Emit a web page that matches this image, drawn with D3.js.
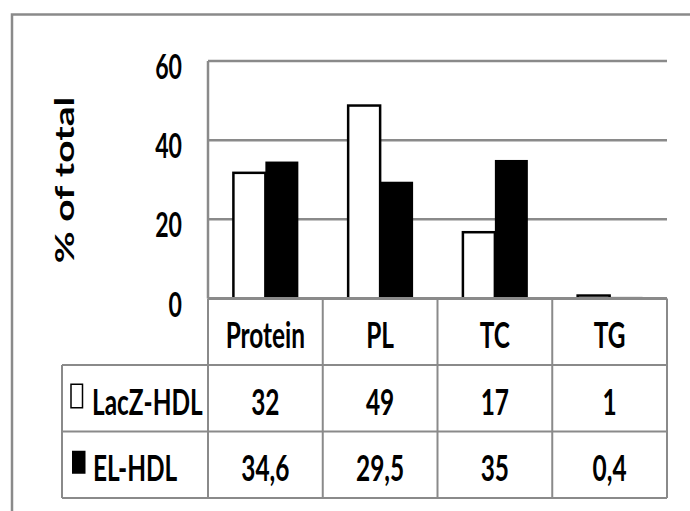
<!DOCTYPE html>
<html>
<head>
<meta charset="utf-8">
<script src="https://cdn.jsdelivr.net/npm/d3@7"></script>
<style>
  html, body { margin: 0; padding: 0; background: #fff; }
  svg { display: block; }
  text { font-family: Lato, "Open Sans", sans-serif; font-weight: bold; fill: #000; }
</style>
</head>
<body>
<svg id="chart" width="690" height="511"></svg>
<script>
// ---- data ----
const categories = ["Protein", "PL", "TC", "TG"];
const seriesNames = ["LacZ-HDL", "EL-HDL"];
const laczValues = [32, 49, 17, 1];
const elValues = [34.6, 29.5, 35, 0.4];
const yTicks = [0, 20, 40, 60];
const yTitle = "% of total";

// ---- layout ----
const W = 690, H = 511;
const plotLeft = 208, plotRight = 667, plotTop = 61, plotBottom = 298.5;
const tableLeft = 62, rowH = 66.5;
const SX = 0.66;            // horizontal squeeze of the lettering
const gridColor = "#8a8a8a";

const svg = d3.select("#chart");
svg.append("rect").attr("width", W).attr("height", H).attr("fill", "#fff");

// outer frame (only top and left visible)
svg.append("rect")
  .attr("x", 12).attr("y", 14.5).attr("width", 760).attr("height", 560)
  .attr("fill", "none").attr("stroke", gridColor).attr("stroke-width", 2.5);

const x = d3.scaleBand().domain(categories).range([plotLeft, plotRight]).paddingInner(0).paddingOuter(0);
const xs = d3.scaleBand().domain(seriesNames).range([0, x.bandwidth()]).paddingInner(0).paddingOuter(0.74);
const y = d3.scaleLinear().domain([0, 60]).range([plotBottom, plotTop]);

// gridlines (excluding 0, which is the table top)
svg.append("g").selectAll("line").data(yTicks.filter(t => t > 0)).join("line")
  .attr("x1", plotLeft).attr("x2", plotRight)
  .attr("y1", d => y(d)).attr("y2", d => y(d))
  .attr("stroke", gridColor).attr("stroke-width", 2.5);

// y axis line
svg.append("line").attr("x1", plotLeft).attr("x2", plotLeft)
  .attr("y1", y(60)).attr("y2", y(0))
  .attr("stroke", gridColor).attr("stroke-width", 2.5);

// tick labels
svg.append("g").selectAll("text").data(yTicks).join("text")
  .attr("transform", d => `translate(182,${y(d) + 18}) scale(${SX},1)`)
  .attr("text-anchor", "end")
  .attr("font-size", 35)
  .text(d => d);

// y title
svg.append("text")
  .attr("transform", `translate(74,180) scale(${SX},1) rotate(-90)`)
  .attr("text-anchor", "middle")
  .attr("font-size", 39)
  .text(yTitle);

// bars
const seriesData = [laczValues, elValues];
const barStyles = [{fill: "#fff", stroke: "#000"}, {fill: "#000", stroke: "#000"}];
seriesNames.forEach((s, si) => {
  svg.append("g").selectAll("rect").data(categories).join("rect")
    .attr("x", c => x(c) + xs(s) + (si === 0 ? 1 : 0))
    .attr("width", xs.bandwidth() - (si === 0 ? 1 : 0))
    .attr("y", (c, i) => y(seriesData[si][i]) + (si === 0 ? 1 : 0))
    .attr("height", (c, i) => Math.max(0, y(0) - y(seriesData[si][i]) - (si === 0 ? 1 : 0)))
    .attr("fill", barStyles[si].fill)
    .attr("stroke", barStyles[si].stroke)
    .attr("stroke-width", si === 0 ? 2.5 : 0);
});

// ---- table ----
const t = svg.append("g").attr("stroke", gridColor).attr("stroke-width", 2).attr("fill", "none");
const rowTops = [plotBottom, plotBottom + rowH, plotBottom + 2 * rowH, plotBottom + 3 * rowH];
// lower horizontal lines
[1, 2, 3].forEach(r => {
  t.append("line").attr("x1", tableLeft).attr("x2", plotRight).attr("y1", rowTops[r]).attr("y2", rowTops[r]);
});
// vertical lines
const colEdges = categories.map(c => x(c)).concat([plotRight]);
colEdges.forEach(cx => {
  t.append("line").attr("x1", cx).attr("x2", cx).attr("y1", rowTops[0]).attr("y2", rowTops[3]);
});
t.append("line").attr("x1", tableLeft).attr("x2", tableLeft).attr("y1", rowTops[1]).attr("y2", rowTops[3]);
// header top line (baseline), drawn over the bars' feet
t.append("line").attr("x1", plotLeft).attr("x2", plotRight).attr("y1", rowTops[0]).attr("y2", rowTops[0]).attr("stroke-width", 3);

const fmt = v => String(v).replace(".", ",");
const cellText = (cx, cy, str) => svg.append("text")
  .attr("transform", `translate(${cx},${cy + 16.5}) scale(${SX},1)`)
  .attr("text-anchor", "middle")
  .attr("font-size", 37)
  .text(str);

categories.forEach((c, i) => {
  const cx = x(c) + x.bandwidth() / 2;
  cellText(cx, (rowTops[0] + rowTops[1]) / 2, c);
  seriesData.forEach((vals, si) => {
    cellText(cx, (rowTops[si + 1] + rowTops[si + 2]) / 2, fmt(vals[i]));
  });
});

// row labels with legend keys
const keyBoxes = [
  {x: 71, w: 11.5, h: 23.5, fill: "#fff", stroke: "#000", sw: 1.5, tx: 92},
  {x: 72, w: 13.5, h: 23, fill: "#000", stroke: "none", sw: 0, tx: 93}
];
seriesNames.forEach((s, si) => {
  const k = keyBoxes[si];
  const cy = (rowTops[si + 1] + rowTops[si + 2]) / 2;
  svg.append("rect").attr("x", k.x).attr("y", cy - 14).attr("width", k.w).attr("height", k.h)
    .attr("fill", k.fill).attr("stroke", k.stroke).attr("stroke-width", k.sw);
  svg.append("text")
    .attr("transform", `translate(${k.tx},${cy + 16.5}) scale(${SX},1)`)
    .attr("text-anchor", "start")
    .attr("font-size", 37)
    .text(s);
});
</script>
</body>
</html>
